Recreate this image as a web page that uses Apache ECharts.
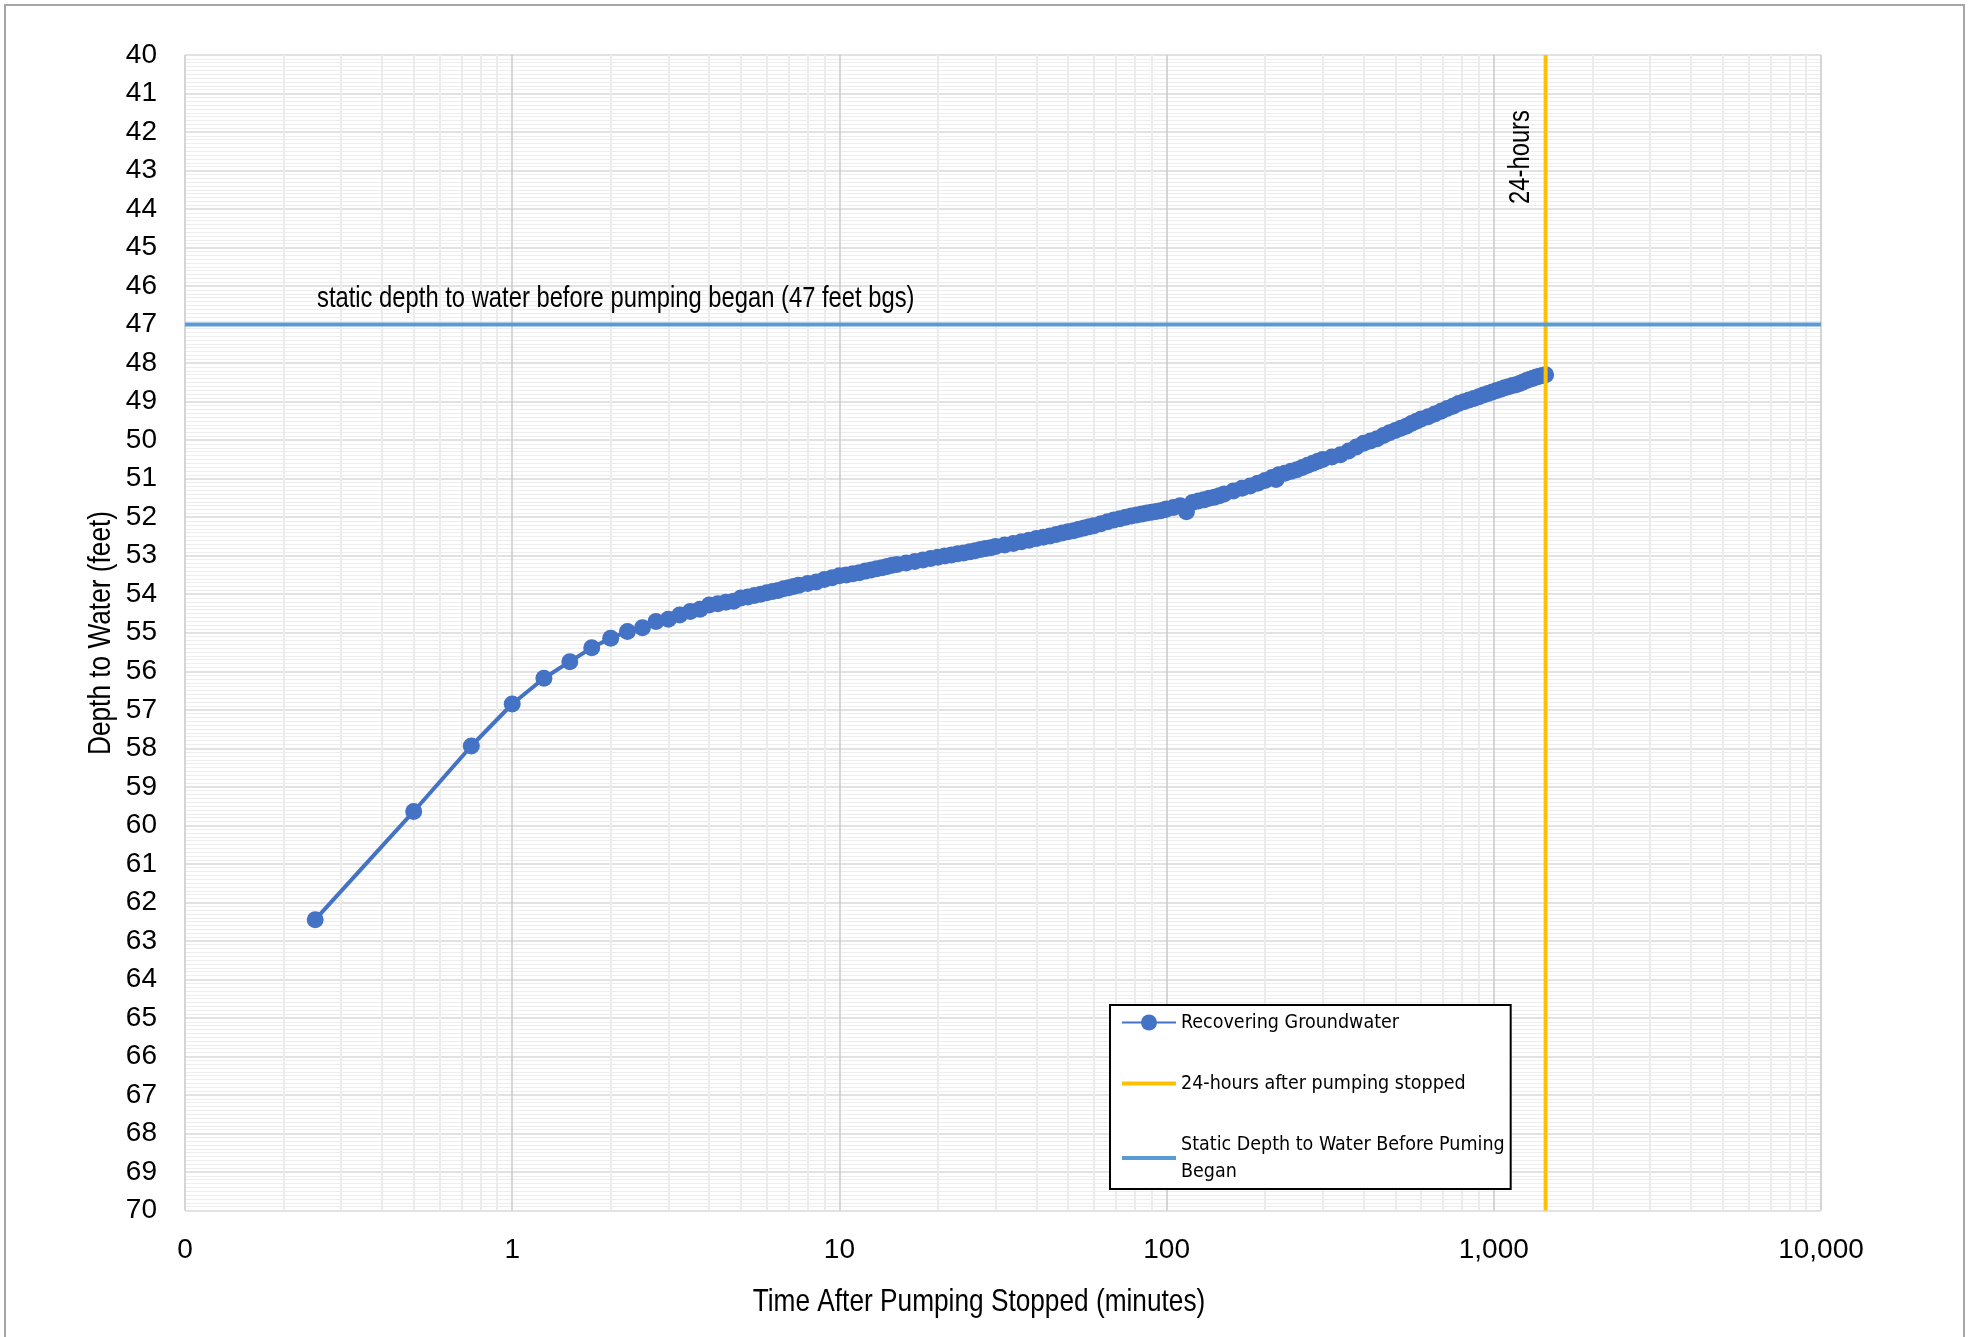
<!DOCTYPE html>
<html><head><meta charset="utf-8">
<script src="https://cdn.jsdelivr.net/npm/echarts@6/dist/echarts.min.js"></script>
<style>html,body{margin:0;padding:0;background:#fff}#c{width:1973px;height:1337px}</style>
</head><body><div id="c"></div>
<script>
const FONT = "'Liberation Sans', Arial, sans-serif";
const LEGEND_FONT = "'DejaVu Sans Condensed', 'Liberation Sans', sans-serif";

// Time after pumping stopped (minutes)
const times = [
  0.25, 0.5, 0.75, 1, 1.25, 1.5, 1.75, 2, 2.25, 2.5, 2.75, 3, 3.25, 3.5, 3.75, 4, 4.25, 4.5, 4.75, 5,
  5.25, 5.5, 5.75, 6, 6.25, 6.5, 6.75, 7, 7.25, 7.5, 8, 8.5, 9, 9.5, 10,
  10.5, 11, 11.5, 12, 12.5, 13, 13.5, 14, 14.5, 15, 16, 17, 18, 19, 20,
  21, 22, 23, 24, 25, 26, 27, 28, 29, 30, 32, 34, 36, 38, 40,
  42, 44, 46, 48, 50, 52, 54, 56, 58, 60, 63, 66, 69, 72, 75, 78, 81, 84, 87, 90, 93, 96, 99, 100,
  105, 110, 115, 120, 125, 130, 135, 140, 145, 150, 160, 170, 180, 190, 200, 210, 216, 220, 230, 240, 250, 260, 270, 280, 290, 300,
  320, 340, 360, 380, 400, 420, 440, 460, 480, 500, 520, 540, 560, 580, 600,
  630, 660, 690, 720, 750, 780, 810, 840, 870, 900, 930, 960, 990, 1020, 1050, 1080, 1110, 1140, 1170, 1200,
  1230, 1260, 1290, 1320, 1350, 1380, 1410, 1440
];
// Depth to water (feet)
const depths = [
  62.45, 59.64, 57.94, 56.85, 56.18, 55.75, 55.39, 55.14, 54.97, 54.87, 54.71, 54.65, 54.54, 54.45, 54.39, 54.28, 54.25, 54.21, 54.18, 54.10,
  54.07, 54.03, 54.00, 53.96, 53.93, 53.90, 53.86, 53.83, 53.80, 53.77, 53.72, 53.68, 53.62, 53.57, 53.52,
  53.50, 53.47, 53.44, 53.40, 53.37, 53.34, 53.31, 53.28, 53.25, 53.23, 53.19, 53.15, 53.11, 53.07, 53.04,
  53.01, 52.98, 52.95, 52.93, 52.90, 52.87, 52.84, 52.81, 52.79, 52.76, 52.72, 52.68, 52.64, 52.60, 52.55,
  52.52, 52.49, 52.45, 52.41, 52.38, 52.35, 52.31, 52.28, 52.25, 52.22, 52.17, 52.12, 52.07, 52.04, 52.00, 51.97, 51.94, 51.92, 51.89, 51.87, 51.85, 51.83, 51.80, 51.79,
  51.75, 51.70, 51.86, 51.62, 51.58, 51.55, 51.51, 51.48, 51.44, 51.40, 51.32, 51.25, 51.19, 51.12, 51.05, 50.97, 51.02, 50.90, 50.86, 50.81, 50.77, 50.71, 50.65, 50.60, 50.55, 50.50,
  50.44, 50.38, 50.28, 50.18, 50.08, 50.02, 49.96, 49.88, 49.81, 49.75, 49.69, 49.64, 49.57, 49.51, 49.45,
  49.39, 49.32, 49.25, 49.18, 49.12, 49.05, 49.00, 48.96, 48.92, 48.87, 48.83, 48.79, 48.75, 48.71, 48.68, 48.64, 48.61, 48.58, 48.56, 48.53,
  48.49, 48.45, 48.42, 48.39, 48.36, 48.34, 48.32, 48.30
];

const staticDepth = 47;
const hours24 = 1440;
const xMin = 0.1, xMax = 10000;
const yMin = 40, yMax = 70;
const xTickLabels = { '0.1': '0', '1': '1', '10': '10', '100': '100', '1000': '1,000', '10000': '10,000' };
const names = ['Recovering Groundwater', '24-hours after pumping stopped', 'Static Depth to Water Before Puming Began'];
const staticText = 'static depth to water before pumping began (47 feet bgs)';
const hoursText = '24-hours';
const xTitle = 'Time After Pumping Stopped (minutes)';
const yTitle = 'Depth to Water (feet)';

// minor vertical grid values (2..9 within each decade)
const minorX = [];
for (let e = -1; e < 4; e++) for (let m = 2; m <= 9; m++) minorX.push(+(m * Math.pow(10, e)).toPrecision(3));

const NARROW = 0.82;
const lineIcon = 'path://M0,0 H54 V4 H0 Z';

const chart = echarts.init(document.getElementById('c'), null, { renderer: 'canvas' });
chart.setOption({
  animation: false,
  backgroundColor: '#fff',
  textStyle: { fontFamily: FONT },
  grid: { left: 185, right: 152, top: 55, bottom: 126.5 },
  xAxis: {
    type: 'log', logBase: 10, min: xMin, max: xMax,
    axisLine: { show: false }, axisTick: { show: false },
    axisLabel: {
      margin: 26, fontSize: 28, color: '#000', fontFamily: FONT,
      formatter: v => xTickLabels[String(+v.toPrecision(6))] ?? String(v)
    },
    splitLine: { show: true, lineStyle: { color: '#c9c9c9', width: 1.5 } }
  },
  yAxis: {
    type: 'value', inverse: true, min: yMin, max: yMax, interval: 1,
    axisLine: { show: false }, axisTick: { show: false },
    axisLabel: { margin: 28, fontSize: 28, color: '#000', fontFamily: FONT },
    splitLine: { show: true, lineStyle: { color: '#d9d9d9', width: 1.5 } },
    minorTick: { show: false, splitNumber: 10 },
    minorSplitLine: { show: true, lineStyle: { color: '#eeeeee', width: 1 } }
  },
  legend: {
    orient: 'vertical', left: 1110, top: 1005,
    data: [
      { name: names[0] },
      { name: names[1], icon: lineIcon },
      { name: names[2], icon: lineIcon }
    ],
    backgroundColor: '#fff', borderColor: '#000', borderWidth: 2,
    padding: [4, 6, 4, 11], itemGap: 34, itemWidth: 54, itemHeight: 20,
    textStyle: { fontSize: 19.5, lineHeight: 27, color: '#000', fontFamily: LEGEND_FONT },
    formatter: n => n.replace(' Began', '\nBegan'),
    z: 20
  },
  graphic: [
    { type: 'rect', shape: { x: 5, y: 5, width: 1959, height: 1400 }, style: { fill: 'none', stroke: '#a6a6a6', lineWidth: 2 }, silent: true, z: 100 },
    { type: 'text', x: 317, y: 299, scaleX: NARROW, style: { text: staticText, font: '29px ' + FONT, fill: '#000', textVerticalAlign: 'middle' }, z: 50 },
    { type: 'text', x: 1521, y: 157, rotation: Math.PI / 2, scaleX: NARROW, style: { text: hoursText, font: '29px ' + FONT, fill: '#000', textAlign: 'center', textVerticalAlign: 'middle' }, z: 50 },
    { type: 'text', x: 979, y: 1302, scaleX: NARROW, style: { text: xTitle, font: '32px ' + FONT, fill: '#000', textAlign: 'center', textVerticalAlign: 'middle' }, z: 50 },
    { type: 'text', x: 101, y: 633, rotation: Math.PI / 2, scaleX: NARROW, style: { text: yTitle, font: '32px ' + FONT, fill: '#000', textAlign: 'center', textVerticalAlign: 'middle' }, z: 50 }
  ],
  series: [
    {
      name: 'minorGrid', type: 'line', data: [[xMin, yMin]], symbol: 'none', lineStyle: { width: 0, opacity: 0 },
      silent: true, z: 1,
      markLine: {
        z: 1, silent: true, symbol: 'none', label: { show: false },
        lineStyle: { color: '#ececec', width: 2, type: 'solid' },
        data: minorX.map(v => ({ xAxis: v }))
      }
    },
    {
      name: names[0], type: 'line', z: 3,
      data: times.map((t, i) => [t, depths[i]]),
      symbol: 'circle', symbolSize: 17, showAllSymbol: true,
      lineStyle: { color: '#4472C4', width: 4 },
      itemStyle: { color: '#4472C4', borderColor: '#4472C4', borderWidth: 0 }
    },
    {
      name: names[1], type: 'line', z: 4,
      data: [[hours24, yMin], [hours24, yMax]],
      symbol: 'none', lineStyle: { color: '#FFC000', width: 4 }, itemStyle: { color: '#FFC000' }
    },
    {
      name: names[2], type: 'line', z: 5,
      data: [[xMin, staticDepth], [xMax, staticDepth]],
      symbol: 'none', lineStyle: { color: '#5B9BD5', width: 4 }, itemStyle: { color: '#5B9BD5' }
    }
  ]
});
</script>
</body></html>
